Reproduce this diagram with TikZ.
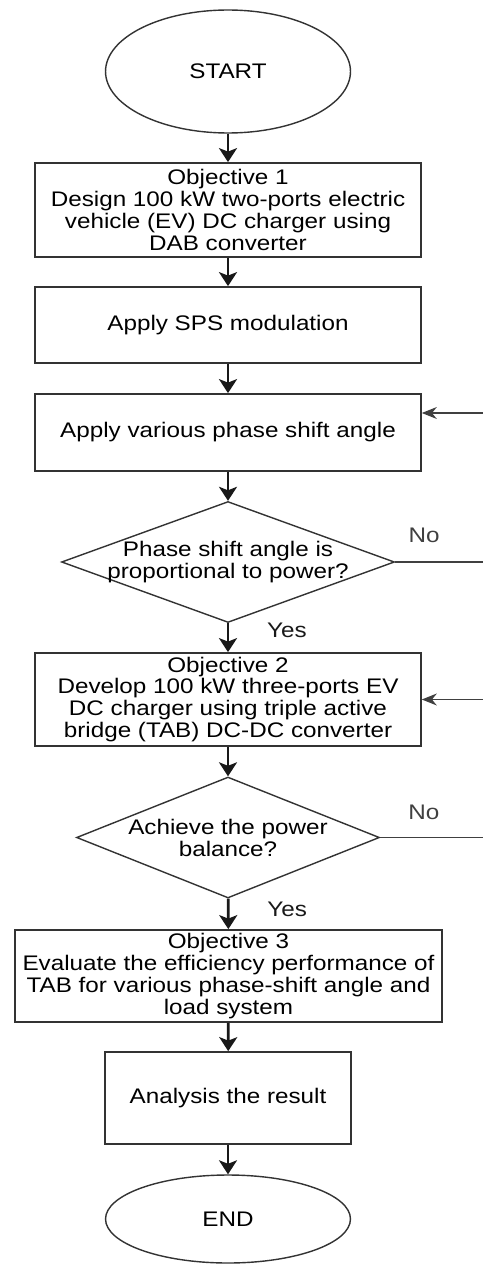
\documentclass[tikz,border=0pt]{standalone}
\usepackage{fontspec}
\setmainfont[FakeStretch=1.15]{Liberation Sans}
\usetikzlibrary{shapes.geometric,arrows.meta}
\begin{document}
\begin{tikzpicture}[x=0.02cm, y=-0.02cm, every node/.style={font=\fontsize{12}{12.5}\selectfont},
  terminal/.style={draw=black!80,ellipse,line width=0.8pt,minimum width=4.9cm},
  process/.style={draw=black!80,line width=1pt,minimum width=7.72cm,align=center,inner ysep=1.5pt},
  decision/.style={draw=black!80,diamond,aspect=2.75,line width=0.8pt,align=center,inner xsep=-1.6cm,inner ysep=0pt},
  flow/.style={-{Stealth[length=0.28cm,width=0.36cm,inset=0.07cm]},line width=1.6pt,black!90},
  back/.style={-{Stealth[length=0.3cm,width=0.24cm]},line width=0.8pt,black!75}]
\useasboundingbox (0,0) rectangle (483,1264);
\clip (0,0) rectangle (483,1264);
\node[terminal,minimum height=2.46cm] (start) at (228,71.5) {START};
\node[process,minimum height=1.88cm] (obj1) at (228,210) {Objective 1\\Design 100 kW two-ports electric\\vehicle (EV) DC charger using\\DAB converter};
\node[process,minimum height=1.52cm] (sps) at (228,325) {Apply SPS modulation};
\node[process,minimum height=1.54cm] (vary) at (228,432.5) {Apply various phase shift angle};
\node[decision,minimum width=6.66cm,minimum height=2.42cm] (dec1) at (228,562) {Phase shift angle is\\proportional to power?};
\node[process,minimum height=1.86cm] (obj2) at (228,699.5) {Objective 2\\Develop 100 kW three-ports EV\\DC charger using triple active\\bridge (TAB) DC-DC converter};
\node[decision,minimum width=6.06cm,minimum height=2.42cm] (dec2) at (228,837.5) {Achieve the power\\balance?};
\node[process,minimum width=8.54cm,minimum height=1.84cm] (obj3) at (228.5,976) {Objective 3\\Evaluate the efficiency performance of\\TAB for various phase-shift angle and\\load system};
\node[process,minimum width=4.92cm,minimum height=1.84cm] (result) at (228,1098) {Analysis the result};
\node[terminal,minimum height=1.76cm] (end) at (228,1219) {END};
% main flow
\draw[flow] (start) -- (obj1);
\draw[flow] (obj1) -- (sps);
\draw[flow] (sps) -- (vary);
\draw[flow] (vary) -- (dec1);
\draw[flow] (dec1) -- node[pos=0.23,xshift=1.18cm] {Yes} (obj2);
\draw[flow] (obj2) -- (dec2);
\draw[flow] (dec2) -- node[pos=0.34,xshift=1.18cm] {Yes} (obj3);
\draw[flow] (obj3) -- (result);
\draw[flow] (result) -- (end);
% feedback loops
\coordinate (loop1) at (495,562);
\coordinate (loop2) at (495,837.5);
\draw[back] (dec1.east) -- node[pos=0.29,yshift=0.54cm] {No} (loop1) |- ([yshift=0.39cm]vary.east);
\draw[back] (dec2.east) -- node[pos=0.38,yshift=0.5cm] {No} (loop2) |- (obj2.east);
\end{tikzpicture}
\end{document}
